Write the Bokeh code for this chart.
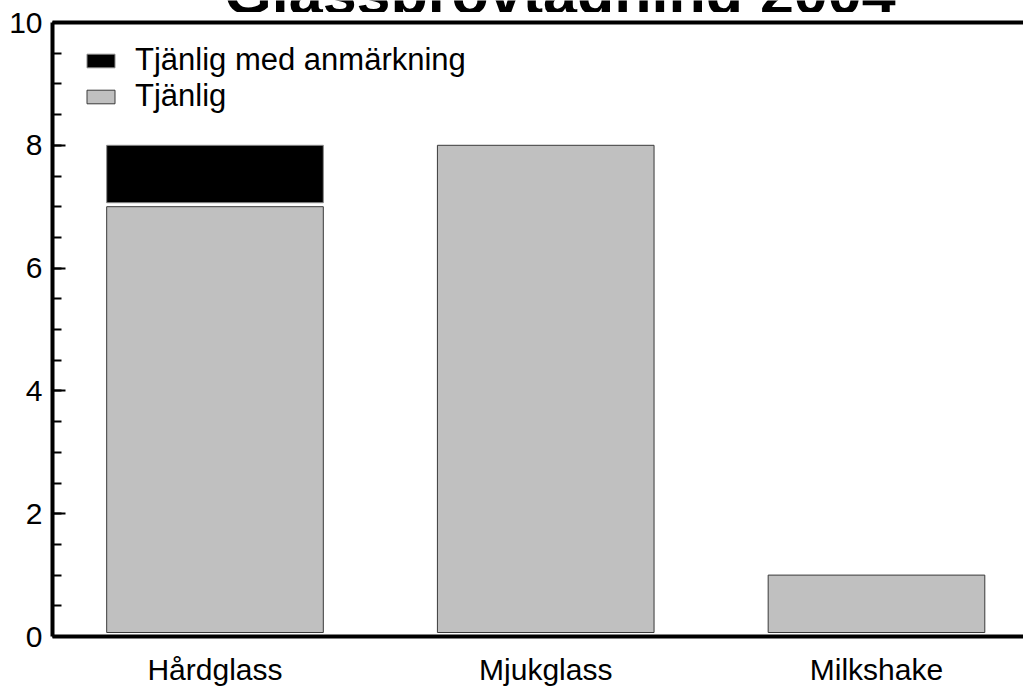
from bokeh.plotting import figure
from bokeh.layouts import column
from bokeh.models import (ColumnDataSource, Range1d, LinearAxis, FixedTicker,
                          SingleIntervalTicker, Legend, LegendItem, Label)
from bokeh.embed import file_html
from bokeh.resources import INLINE

# ---- data ----
categories = ["Hårdglass", "Mjukglass", "Milkshake"]
tjanlig = [7, 8, 1]
med_anmarkning = [1, 0, 0]
title_text = "Glassprovtagning 2004"
y_ticks_major = 2

FONT = "Liberation Sans, Arial, sans-serif"
GAP = 0.065       # small white gap under each bar segment (style)
BAR_W = 0.655
X_START, X_END = 0.5087, 3.4445

pos = list(range(1, len(categories) + 1))

src_t = ColumnDataSource(dict(
    x=pos,
    bottom=[GAP] * len(pos),
    top=tjanlig,
))
keep = [i for i, v in enumerate(med_anmarkning) if v > 0]
src_a = ColumnDataSource(dict(
    x=[pos[i] for i in keep],
    bottom=[tjanlig[i] + GAP for i in keep],
    top=[tjanlig[i] + med_anmarkning[i] for i in keep],
))

# ---- thin strip showing the lower part of the (cut-off) title ----
t = figure(width=1023, height=12,
           x_range=Range1d(X_START, X_END), y_range=Range1d(0, 12),
           x_axis_type=None, y_axis_type=None,
           output_backend="svg", toolbar_location=None,
           min_border_left=52, min_border_right=0,
           min_border_top=0, min_border_bottom=0)
t.outline_line_color = None
t.background_fill_color = "white"
t.border_fill_color = "white"
t.add_layout(Label(x=2.043, y=-14, text=title_text, text_align="center",
                   text_baseline="bottom", text_font=FONT,
                   text_font_size="61px", text_font_style="bold",
                   text_color="black"))

# ---- main chart ----
p = figure(width=1023, height=676,
           x_range=Range1d(X_START, X_END), y_range=Range1d(0, 10),
           x_axis_type=None, y_axis_type=None,
           output_backend="svg", toolbar_location=None,
           min_border_left=52, min_border_top=10, min_border_bottom=50,
           min_border_right=0)
p.outline_line_color = None
p.background_fill_color = "white"
p.border_fill_color = "white"

r_t = p.vbar(x="x", bottom="bottom", top="top", width=BAR_W, source=src_t,
             fill_color="#c0c0c0", line_color="#3a3a3a", line_width=1)
r_a = p.vbar(x="x", bottom="bottom", top="top", width=BAR_W, source=src_a,
             fill_color="black", line_color="#8a8a8a", line_width=1)

# left axis
yax = LinearAxis(ticker=SingleIntervalTicker(interval=y_ticks_major, num_minor_ticks=4))
yax.axis_line_width = 4
yax.axis_line_color = "black"
yax.major_tick_in = 13
yax.major_tick_out = 0
yax.minor_tick_in = 9
yax.minor_tick_out = 0
yax.major_tick_line_width = 2
yax.minor_tick_line_width = 2
yax.major_label_standoff = 10
yax.major_label_text_font = FONT
yax.major_label_text_font_size = "30px"
yax.major_label_text_color = "black"
p.add_layout(yax, "left")

# bottom axis with category labels
xax = LinearAxis(ticker=FixedTicker(ticks=pos),
                 major_label_overrides={k: c for k, c in zip(pos, categories)})
xax.axis_line_width = 4
xax.axis_line_color = "black"
xax.major_tick_line_color = None
xax.minor_tick_line_color = None
xax.major_tick_in = 0
xax.major_tick_out = 0
xax.major_label_standoff = 16
xax.major_label_text_font = FONT
xax.major_label_text_font_size = "30px"
xax.major_label_text_color = "black"
p.add_layout(xax, "below")

# top border line
tax = LinearAxis(ticker=FixedTicker(ticks=[]))
tax.axis_line_width = 4
tax.axis_line_color = "black"
tax.major_tick_line_color = None
tax.minor_tick_line_color = None
tax.major_label_text_font_size = "0px"
tax.major_label_standoff = 0
tax.major_tick_in = 0
tax.major_tick_out = 0
p.add_layout(tax, "above")

legend = Legend(items=[
    LegendItem(label="Tjänlig med anmärkning", renderers=[r_a]),
    LegendItem(label="Tjänlig", renderers=[r_t]),
], location=(31, 522))
legend.border_line_color = "white"
legend.border_line_alpha = 0
legend.background_fill_alpha = 0
legend.margin = 0
legend.padding = 0
try:
    legend.spacing = -3
except Exception:
    legend.spacing = 0
legend.glyph_width = 35
legend.glyph_height = 17
legend.label_standoff = 17
legend.label_text_font = FONT
legend.label_text_font_size = "31px"
legend.label_text_color = "black"
legend.label_height = 17
p.add_layout(legend)

layout = column(t, p, spacing=0)
open("out.html", "w").write(file_html(layout, INLINE))
